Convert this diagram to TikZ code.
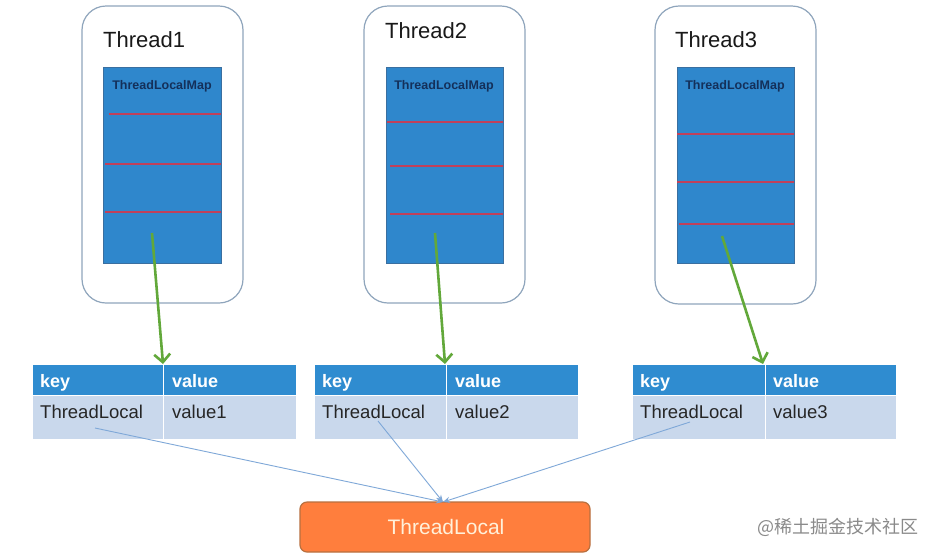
\documentclass[tikz,border=0pt]{standalone}
\usepackage{fontspec}
\setmainfont{Liberation Sans}
\newfontfamily\cjk{Noto Sans CJK SC}
\usetikzlibrary{arrows.meta}
\definecolor{threadborder}{HTML}{8FA5BC}
\definecolor{mapblue}{HTML}{2F87CC}
\definecolor{mapborder}{HTML}{3A6FA0}
\definecolor{mapred}{HTML}{C0405A}
\definecolor{maptext}{HTML}{14305A}
\definecolor{hdrblue}{HTML}{2F8CD0}
\definecolor{rowblue}{HTML}{C9D8EC}
\definecolor{arrowgreen}{HTML}{62A83A}
\definecolor{linkblue}{HTML}{7FA8D8}
\definecolor{orangefill}{HTML}{FF7E3D}
\definecolor{orangeborder}{HTML}{B8703F}
\definecolor{orangetext}{HTML}{FFF1DA}
\definecolor{wmgray}{HTML}{8A8A8A}
\tikzset{
  threadbox/.style={draw=threadborder, line width=1.2pt, rounded corners=24pt, fill=white},
  mapbox/.style={draw=mapborder, line width=0.5pt, fill=mapblue},
  redline/.style={draw=mapred, line width=1.4pt},
  threadlabel/.style={font=\fontsize{22}{26}\selectfont, text=black!90, anchor=west, inner sep=0},
  maplabel/.style={font=\bfseries\fontsize{12.5}{15}\selectfont, text=maptext, inner sep=0},
  hdr/.style={fill=hdrblue, draw=white, line width=1pt},
  row/.style={fill=rowblue, draw=white, line width=1pt},
  hdrtext/.style={font=\bfseries\fontsize{18}{21}\selectfont, text=white, anchor=base west, inner sep=0},
  rowtext/.style={font=\fontsize{18.5}{21}\selectfont, text=black!85, anchor=base west, inner sep=0},
  greenarrow/.style={draw=arrowgreen, line width=2.6pt, -{Straight Barb[length=8pt,width=16pt,line width=2.6pt]}},
  linkarrow/.style={draw=linkblue, line width=0.9pt, -{Stealth[length=7pt,width=6pt]}},
  tlbox/.style={draw=orangeborder, line width=1.2pt, fill=orangefill, rounded corners=7pt},
}
\begin{document}
\begin{tikzpicture}[x=1pt,y=-1pt]
\useasboundingbox (0,0) rectangle (933,558);
\fill[white] (0,0) rectangle (933,558);

% ---------- Thread 1 ----------
\draw[threadbox] (82,6) rectangle (243,303);
\node[threadlabel] (t1) at (103,40) {Thread1};
\draw[mapbox] (103,67) rectangle (221,263);
\node[maplabel] (m1) at (162,86) {ThreadLocalMap};
\draw[redline] (109,114) -- (221,114);
\draw[redline] (105,164) -- (221,164);
\draw[redline] (105,212) -- (221,212);
\coordinate (s1) at (152,233);

% ---------- Thread 2 ----------
\draw[threadbox] (364,6) rectangle (525,303);
\node[threadlabel] (t2) at (385,31) {Thread2};
\draw[mapbox] (386,67) rectangle (503,263);
\node[maplabel] (m2) at (444,86) {ThreadLocalMap};
\draw[redline] (387,122) -- (503,122);
\draw[redline] (390,166) -- (503,166);
\draw[redline] (390,214) -- (503,214);
\coordinate (s2) at (435,233);

% ---------- Thread 3 ----------
\draw[threadbox] (655,6) rectangle (816,304);
\node[threadlabel] (t3) at (675,40) {Thread3};
\draw[mapbox] (677,67) rectangle (794,263);
\node[maplabel] (m3) at (735,86) {ThreadLocalMap};
\draw[redline] (677,134) -- (794,134);
\draw[redline] (677,182) -- (794,182);
\draw[redline] (679,224) -- (794,224);
\coordinate (s3) at (722,236);

% ---------- Tables ----------
% table 1
\draw[hdr] (32,364) rectangle (163,395);
\draw[hdr] (163,364) rectangle (296,395);
\draw[row] (32,395) rectangle (163,439);
\draw[row] (163,395) rectangle (296,439);
\node[hdrtext] (k1) at (40,387) {key};
\node[hdrtext] (v1) at (172,387) {value};
\node[rowtext] (r1) at (40,418) {ThreadLocal};
\node[rowtext] (w1) at (172,418) {value1};
\coordinate (e1) at (163,364);

% table 2
\draw[hdr] (314,364) rectangle (446,395);
\draw[hdr] (446,364) rectangle (578,395);
\draw[row] (314,395) rectangle (446,439);
\draw[row] (446,395) rectangle (578,439);
\node[hdrtext] (k2) at (322,387) {key};
\node[hdrtext] (v2) at (455,387) {value};
\node[rowtext] (r2) at (322,418) {ThreadLocal};
\node[rowtext] (w2) at (455,418) {value2};
\coordinate (e2) at (445,364);

% table 3
\draw[hdr] (632,364) rectangle (765,395);
\draw[hdr] (765,364) rectangle (896,395);
\draw[row] (632,395) rectangle (765,439);
\draw[row] (765,395) rectangle (896,439);
\node[hdrtext] (k3) at (640,387) {key};
\node[hdrtext] (v3) at (773,387) {value};
\node[rowtext] (r3) at (640,418) {ThreadLocal};
\node[rowtext] (w3) at (773,418) {value3};
\coordinate (e3) at (763,364);

% ---------- green arrows ----------
\draw[greenarrow] (s1) -- (e1);
\draw[greenarrow] (s2) -- (e2);
\draw[greenarrow] (s3) -- (e3);

% ---------- ThreadLocal box ----------
\draw[tlbox] (300,502) rectangle (590,552);
\node[font=\fontsize{21}{25}\selectfont, text=orangetext, inner sep=0] (tl) at (446,527) {ThreadLocal};
\coordinate (tltop) at (443,502);

% ---------- link lines ----------
\coordinate (l1) at (95,428);
\coordinate (l2) at (378,421);
\coordinate (l3) at (690,422);
\draw[linkarrow] (l1) -- (tltop);
\draw[linkarrow] (l2) -- (tltop);
\draw[linkarrow] (l3) -- (tltop);

% ---------- watermark ----------
\node[font=\cjk\fontsize{18}{21}\selectfont, text=wmgray, anchor=west, inner sep=0] (wm) at (757,527) {@稀土掘金技术社区};
\end{tikzpicture}
\end{document}
